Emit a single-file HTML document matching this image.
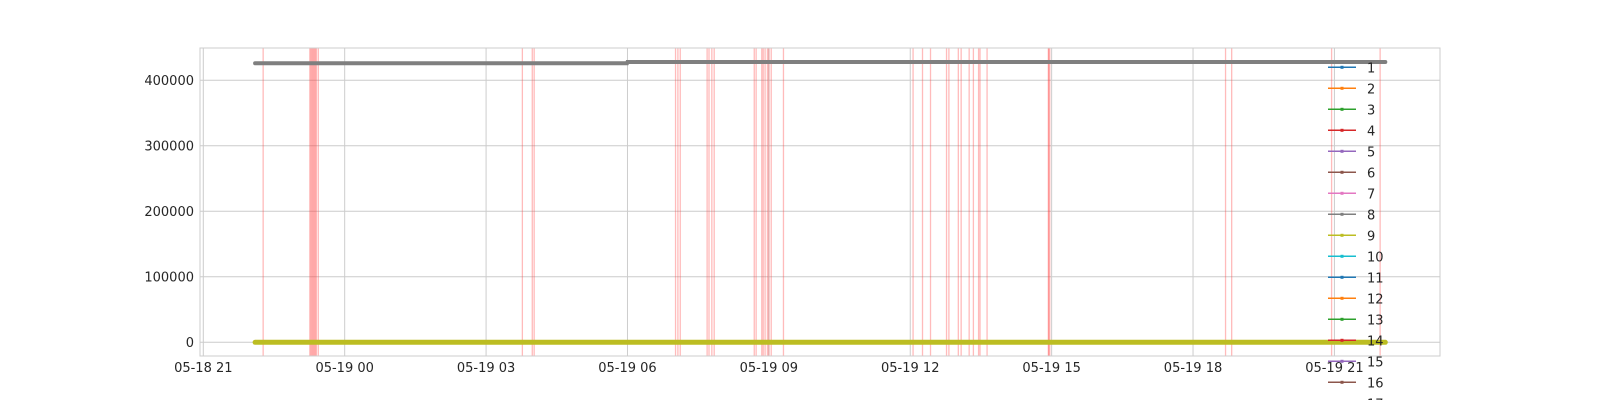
<!DOCTYPE html>
<html><head><meta charset="utf-8"><style>
body{margin:0;background:#fff;}
svg{display:block;font-family:"DejaVu Sans","Liberation Sans",sans-serif;}
</style></head><body>
<svg id="chart" width="1600" height="400" viewBox="0 0 1600 400" xmlns="http://www.w3.org/2000/svg">
<g id="grid"></g>
<g id="events"></g>
<g id="series"></g>
<rect x="200" y="48" width="1240" height="308" fill="none" stroke="#cccccc" stroke-width="1"/>
<g id="yticks"></g>
<g id="xticks"></g>
<g id="legend"></g>
</svg>
<script>
// hours since 05-18 00:00
const xTickHours = [21, 24, 27, 30, 33, 36, 39, 42, 45];
const xTickLabels = ["05-18 21","05-19 00","05-19 03","05-19 06","05-19 09","05-19 12","05-19 15","05-19 18","05-19 21"];
const yTickValues = [0, 100000, 200000, 300000, 400000];
const yTickLabels = ["0","100000","200000","300000","400000"];
const sampleHours = [22.1,23,24,25,26,27,28,29,29.99,30.0,31,32,33,34,35,36,37,38,39,40,41,42,43,44,45,46,46.08];
const series8Values = [426000,426000,426000,426000,426000,426000,426000,426000,426000,428000,428000,428000,428000,428000,428000,428000,428000,428000,428000,428000,428000,428000,428000,428000,428000,428000,428000];
const zeroValues = [0,0,0,0,0,0,0,0,0,0,0,0,0,0,0,0,0,0,0,0,0,0,0,0,0,0,0];
const seriesNames = ["1","2","3","4","5","6","7","8","9","10","11","12","13","14","15","16","17"];
const seriesColors = ["#1f77b4","#ff7f0e","#2ca02c","#d62728","#9467bd","#8c564b","#e377c2","#7f7f7f","#bcbd22","#17becf","#1f77b4","#ff7f0e","#2ca02c","#d62728","#9467bd","#8c564b","#e377c2"];
const eventHours = [22.27,23.26,23.28,23.30,23.32,23.34,23.36,23.38,23.40,23.44,27.77,27.98,28.02,31.02,31.07,31.12,31.69,31.73,31.79,31.84,32.69,32.73,32.85,32.88,32.92,32.97,33.00,33.05,33.31,36.06,36.26,36.43,36.77,36.82,37.02,37.08,37.25,37.34,37.45,37.48,37.63,38.93,38.94,38.96,42.69,42.82,44.94,45.97];

const NS="http://www.w3.org/2000/svg";
const X0=203.3, PXH=47.13, Y0=342.3, YS=262/400000;
function xs(h){return X0+(h-21)*PXH;}
function ys(v){return Y0-v*YS;}
function mk(tag,attrs,parent){const e=document.createElementNS(NS,tag);for(const k in attrs)e.setAttribute(k,attrs[k]);parent.appendChild(e);return e;}

const grid=document.getElementById('grid');
xTickHours.forEach(h=>{const l=mk('line',{x1:xs(h),x2:xs(h),y1:48,y2:356,stroke:'#cccccc','stroke-width':1},grid);

});
yTickValues.forEach(v=>{const l=mk('line',{x1:200,x2:1440,y1:ys(v),y2:ys(v),stroke:'#cccccc','stroke-width':1},grid);

});

const ev=document.getElementById('events');
eventHours.forEach(h=>{const l=mk('line',{x1:xs(h),x2:xs(h),y1:48,y2:356,stroke:'rgba(255,60,60,0.35)','stroke-width':1.3},ev);

});

const sg=document.getElementById('series');
function pts(vals){return sampleHours.map((h,i)=>xs(h).toFixed(1)+','+ys(vals[i]).toFixed(1)).join(' ');}
seriesNames.forEach((n,i)=>{
  const vals = (i===7)?series8Values:zeroValues;
  let w = (i===7)?4:3;
  if(i===8) w=5;
  const p=mk('polyline',{points:pts(vals),fill:'none',stroke:seriesColors[i],'stroke-width':w,'stroke-linecap':'round'},sg);
  
  
});
// redraw series 9 on top (olive, visible at zero)
{const p=mk('polyline',{points:pts(zeroValues),fill:'none',stroke:'#bcbd22','stroke-width':4.5,'stroke-linecap':'round'},sg);

}

const yt=document.getElementById('yticks');
yTickValues.forEach((v,i)=>{const t=mk('text',{x:194,y:ys(v)+4.5,'text-anchor':'end','font-size':13,fill:'#262626'},yt);t.textContent=yTickLabels[i];

});
const xt=document.getElementById('xticks');
xTickHours.forEach((h,i)=>{const t=mk('text',{x:xs(h),y:372,'text-anchor':'middle','font-size':13,fill:'#262626'},xt);t.textContent=xTickLabels[i];

});

const lg=document.getElementById('legend');
seriesNames.forEach((n,i)=>{const y=67.3+i*21;
const g=mk('g',{},lg);


mk('line',{x1:1328,x2:1356,y1:y,y2:y,stroke:seriesColors[i],'stroke-width':1.5},g);
mk('rect',{x:1340.5,y:y-1.5,width:3,height:3,fill:seriesColors[i]},g);
const t=mk('text',{x:1367,y:y+5,'font-size':13,fill:'#262626'},g);t.textContent=n;});
</script>
</body></html>
